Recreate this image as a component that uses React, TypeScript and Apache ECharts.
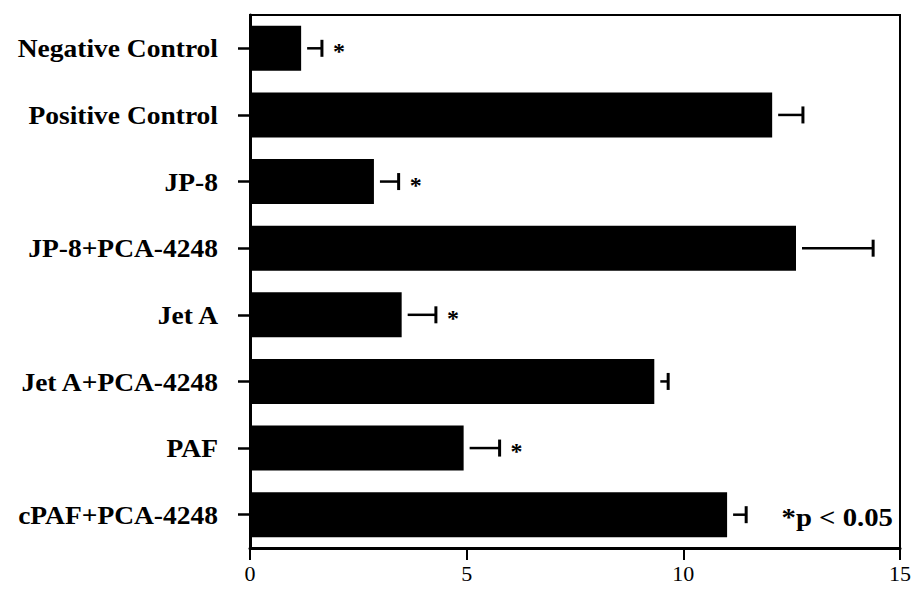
import React, { useEffect, useRef } from "react";
import * as echarts from "echarts";

// Treatment groups, top to bottom
const categories = [
  "Negative Control",
  "Positive Control",
  "JP-8",
  "JP-8+PCA-4248",
  "Jet A",
  "Jet A+PCA-4248",
  "PAF",
  "cPAF+PCA-4248",
];

// Group means and their error (upper whisker length)
const means = [1.18, 12.05, 2.86, 12.6, 3.5, 9.33, 4.93, 11.01];
const errors = [0.48, 0.71, 0.57, 1.78, 0.79, 0.32, 0.83, 0.44];

// Groups flagged as significantly different (p < 0.05)
const significant = [true, false, true, false, true, false, true, false];

// Value axis ticks
const xMin = 0;
const xMax = 15;
const xStep = 5;

const SERIF = "Liberation Serif";

export default function App() {
  const ref = useRef<HTMLDivElement>(null);

  useEffect(() => {
    if (!ref.current) return;
    const chart = echarts.init(ref.current, undefined, { renderer: "svg" });

    const overlayData = categories.map((_, i) => [
      i,
      means[i],
      errors[i],
      significant[i] ? 1 : 0,
    ]);

    // Error whiskers, significance stars and the category names
    const renderItem = (_params: any, api: any) => {
      const i = api.value(0);
      const m = api.value(1);
      const e = api.value(2);
      const star = api.value(3);
      const [x0, yc] = api.coord([0, i]);
      const [xm] = api.coord([m, i]);
      const [xe] = api.coord([m + e, i]);
      const children: any[] = [
        {
          type: "line",
          shape: { x1: xm + 6, y1: yc, x2: xe, y2: yc },
          style: { stroke: "#000", lineWidth: 2.5 },
        },
        {
          type: "line",
          shape: { x1: xe, y1: yc - 8.5, x2: xe, y2: yc + 8.5 },
          style: { stroke: "#000", lineWidth: 3 },
        },
        {
          type: "text",
          x: x0 - 32,
          y: yc + 1,
          scaleX: 1.1,
          style: {
            text: categories[i],
            fill: "#000",
            fontSize: 25,
            fontWeight: "bold",
            fontFamily: SERIF,
            align: "right",
            verticalAlign: "middle",
          },
        },
      ];
      if (star) {
        children.push({
          type: "text",
          x: xe + 17,
          y: yc + 3,
          style: {
            text: "*",
            fill: "#000",
            fontSize: 24,
            fontWeight: "bold",
            fontFamily: SERIF,
            align: "center",
            verticalAlign: "middle",
          },
        });
      }
      return { type: "group", children };
    };

    chart.setOption({
      animation: false,
      backgroundColor: "#fff",
      grid: {
        left: 250,
        right: 13,
        top: 15,
        bottom: 42,
        show: true,
        borderColor: "#000",
        borderWidth: 2,
        backgroundColor: "transparent",
      },
      xAxis: {
        type: "value",
        min: xMin,
        max: xMax,
        interval: xStep,
        splitLine: { show: false },
        axisLine: { show: true, lineStyle: { color: "#000", width: 3 } },
        axisTick: { show: true, length: 12, lineStyle: { color: "#000", width: 2 } },
        axisLabel: {
          color: "#000",
          fontSize: 22,
          fontFamily: SERIF,
          margin: 14,
        },
      },
      yAxis: {
        type: "category",
        data: categories,
        inverse: true,
        axisLine: { show: true, lineStyle: { color: "#000", width: 3 } },
        axisTick: {
          show: true,
          alignWithLabel: true,
          length: 12,
          lineStyle: { color: "#000", width: 2.5 },
        },
        axisLabel: { show: false },
      },
      series: [
        {
          type: "bar",
          data: means,
          barWidth: 45,
          itemStyle: { color: "#000" },
          z: 2,
        },
        {
          type: "custom",
          data: overlayData,
          renderItem,
          clip: false,
          encode: { x: 1, y: 0 },
          z: 3,
        },
      ],
      graphic: [
        {
          type: "text",
          x: 893,
          y: 518,
          scaleX: 1.15,
          style: {
            text: "*p < 0.05",
            fill: "#000",
            fontSize: 25,
            fontWeight: "bold",
            fontFamily: SERIF,
            align: "right",
            verticalAlign: "middle",
          },
        },
      ],
    });

    return () => chart.dispose();
  }, []);

  return (
    <div
      ref={ref}
      style={{ position: "fixed", left: 0, top: 0, width: 914, height: 590, background: "#fff" }}
    />
  );
}
